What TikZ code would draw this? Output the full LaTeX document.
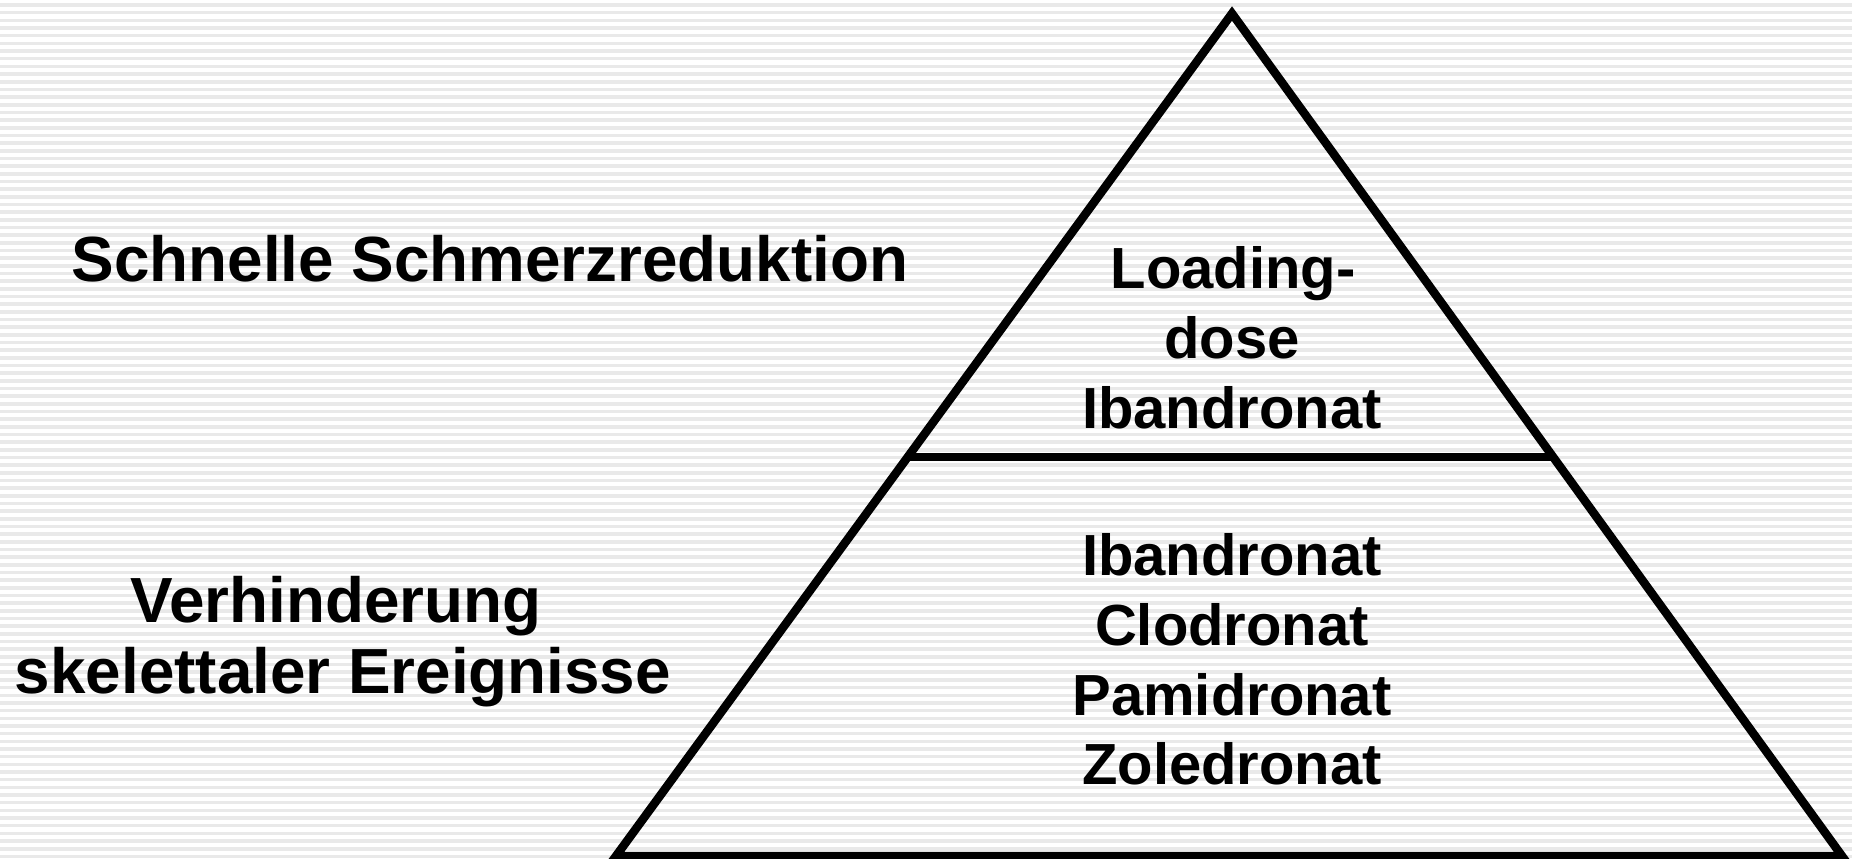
\documentclass[tikz,border=0pt]{standalone}
\usepackage{fontspec}
\setmainfont{Liberation Sans}
\usetikzlibrary{calc}
\begin{document}
\begin{tikzpicture}[x=1pt,y=-1pt,
  stripe/.style={draw={rgb,255:red,233;green,233;blue,233},line width=3.6pt},
  edge/.style={draw=black,line width=8.5pt,line join=miter},
  sidetext/.style={anchor=base,inner sep=0pt,font=\fontsize{63.8}{70}\selectfont\bfseries},
  pyrtext/.style={anchor=base,inner sep=0pt,font=\fontsize{58}{69}\selectfont\bfseries}]
\useasboundingbox (0,0) rectangle (1852,859);
\fill[white] (0,0) rectangle (1852,859);
\foreach \i in {0,...,112}{
  \draw[stripe] (0,{5+7.67*\i}) -- (1852,{5+7.67*\i});
}
% pyramid
\coordinate (apex) at (1232,13.5);
\coordinate (bl) at (616,856);
\coordinate (br) at (1842,856);
\coordinate (ml) at ($(apex)!0.5264!(bl)$);
\coordinate (mr) at ($(apex)!0.5264!(br)$);
\draw[edge] (apex) -- (br) -- (bl) -- cycle;
\draw[edge,line cap=butt] (ml) -- (mr);
% side texts
\node[sidetext] (t1) at (490,281) {Schnelle Schmerzreduktion};
\node[sidetext] (t2) at (336,622.5) {Verhinderung};
\node[sidetext] (t3) at (343,693) {skelettaler Ereignisse};
% top part
\node[pyrtext] (p1) at (1233,288.5) {Loading-};
\node[pyrtext] (p2) at (1232,358.5) {dose};
\node[pyrtext] (p3) at (1232,428.5) {Ibandronat};
% bottom part
\node[pyrtext] (q1) at (1232,575) {Ibandronat};
\node[pyrtext] (q2) at (1232,645) {Clodronat};
\node[pyrtext] (q3) at (1232,715.5) {Pamidronat};
\node[pyrtext] (q4) at (1232,784) {Zoledronat};
\end{tikzpicture}
\end{document}
